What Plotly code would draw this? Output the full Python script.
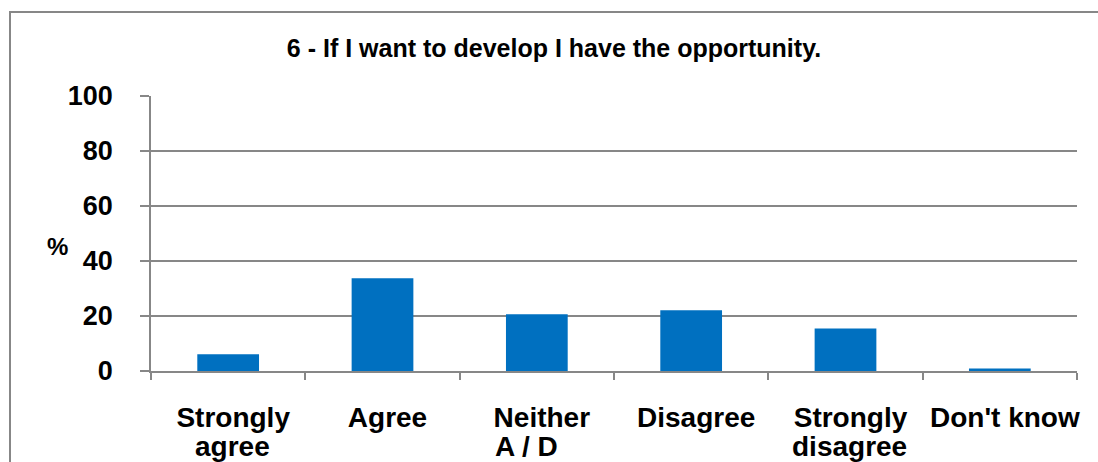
import plotly.graph_objects as go

# Survey responses for question 6 (label split over two lines)
label_first = ["Strongly", "Agree", "Neither", "Disagree", "Strongly", "Don't know"]
label_second = ["agree", "", "A / D", "", "disagree", ""]
percentages = [6.1, 33.7, 20.6, 22.1, 15.5, 0.9]
y_ticks = [0, 20, 40, 60, 80, 100]

title_text = "6 - If I want to develop I have the opportunity."

categories = [f"{a} {b}".strip() for a, b in zip(label_first, label_second)]

W, H = 1098, 462
ML, MR, MT, MB = 151, 21, 96, 91
GRID = "#878787"
FONT = "Liberation Sans, Arial, sans-serif"
LABEL_SIZE = 28

fig = go.Figure(
    go.Bar(
        x=categories,
        y=percentages,
        marker=dict(color="#0070C0", line=dict(width=0)),
        hoverinfo="x+y",
    )
)

pw = W - ML - MR
ph = H - MT - MB


def px_x(p):
    return (p - ML) / pw


def px_y(p):
    return (H - MB - p) / ph


# Chart-area frame around everything
fig.add_shape(
    type="rect", xref="paper", yref="paper",
    x0=px_x(10), x1=px_x(1115), y0=px_y(480), y1=px_y(12),
    line=dict(color=GRID, width=2), fillcolor="rgba(0,0,0,0)", layer="below",
)

# Axis title "%" drawn horizontally
fig.add_annotation(
    text="%", xref="paper", yref="paper",
    x=px_x(57), y=px_y(246), showarrow=False,
    font=dict(family=FONT, size=24, color="black", weight="bold"),
    xanchor="center", yanchor="middle",
)

# Second line of the wrapped category labels
for cat, second in zip(categories, label_second):
    if not second:
        continue
    fig.add_annotation(
        text=second, x=cat, xref="x", yref="paper", y=px_y(446),
        showarrow=False, xanchor="center", yanchor="middle",
        xshift=-10 if second == "A / D" else 4,
        font=dict(family=FONT, size=LABEL_SIZE, color="black", weight="bold"),
    )

fig.update_layout(
    width=W, height=H,
    margin=dict(l=ML, r=MR, t=MT, b=MB, autoexpand=False),
    paper_bgcolor="white", plot_bgcolor="white",
    bargap=0.6,
    showlegend=False,
    title=dict(
        text=title_text, xref="container", yref="container",
        x=554 / W, y=1 - 48 / H, xanchor="center", yanchor="middle",
        font=dict(family=FONT, size=25, color="black", weight="bold"),
        automargin=False,
    ),
    font=dict(family=FONT, color="black"),
)

fig.update_xaxes(
    type="category",
    tickvals=categories, ticktext=label_first,
    tickangle=0, automargin=False,
    showgrid=False,
    showline=True, linecolor=GRID, linewidth=1.5,
    ticks="outside", tickson="boundaries", ticklen=7, tickcolor=GRID, tickwidth=1.5,
    ticklabelstandoff=21, ticklabelshift=5,
    tickfont=dict(family=FONT, size=LABEL_SIZE, color="black", weight="bold"),
    zeroline=False,
)

fig.update_yaxes(
    range=[0, 100],
    tickvals=y_ticks, automargin=False,
    showgrid=True, gridcolor=GRID, gridwidth=1.5,
    showline=True, linecolor=GRID, linewidth=1.5,
    ticks="outside", ticklen=9, tickcolor=GRID, tickwidth=1.5,
    ticklabelstandoff=22,
    tickfont=dict(family=FONT, size=27, color="black", weight="bold"),
    zeroline=False,
)

fig.write_html("out.html")
